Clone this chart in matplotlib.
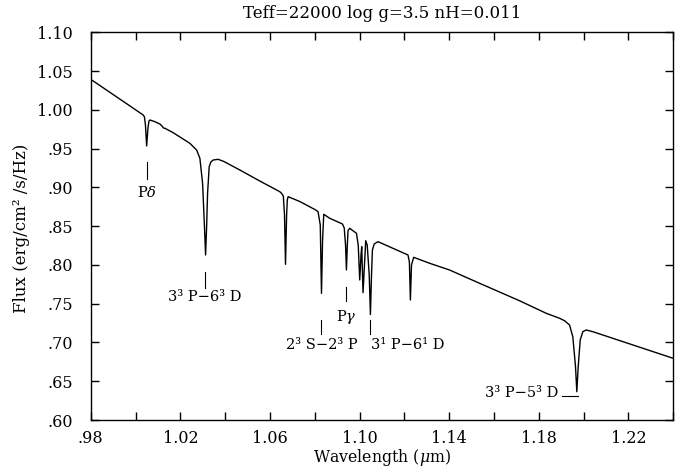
import matplotlib
matplotlib.use("Agg")
import matplotlib.pyplot as plt

# ---- data ----
wavelength = [0.98000, 0.99752, 1.00345, 1.00399, 1.00443, 1.00497, 1.00555, 1.00600, 1.00644,
              1.00867, 1.01090, 1.01201, 1.01246, 1.01313, 1.01683, 1.02427, 1.02726, 1.02873,
              1.02993, 1.03074, 1.03127, 1.03176, 1.03216, 1.03288, 1.03363, 1.03466, 1.03689,
              1.03943, 1.04656, 1.05548, 1.06440, 1.06515, 1.06596, 1.06649, 1.06694, 1.06743,
              1.06774, 1.06810, 1.07331, 1.08045, 1.08147, 1.08245, 1.08299, 1.08348, 1.08401,
              1.08669, 1.09235, 1.09315, 1.09373, 1.09413, 1.09453, 1.09485, 1.09560, 1.09859,
              1.09939, 1.10006, 1.10064, 1.10095, 1.10153, 1.10274, 1.10340, 1.10430, 1.10483,
              1.10532, 1.10572, 1.10652, 1.10822, 1.12160, 1.12222, 1.12267, 1.12316, 1.12414,
              1.13127, 1.14019, 1.15356, 1.17138, 1.18330, 1.18923, 1.19146, 1.19369, 1.19516,
              1.19636, 1.19694, 1.19756, 1.19846, 1.19962, 1.20113, 1.20408, 1.24000]
flux = [1.0394, 1.0050, 0.9933, 0.9908, 0.9805, 0.9534, 0.9766, 0.9856, 0.9869,
        0.9847, 0.9817, 0.9785, 0.9766, 0.9762, 0.9705, 0.9568, 0.9482, 0.9375,
        0.9053, 0.8515, 0.8128, 0.8515, 0.8924, 0.9267, 0.9327, 0.9353, 0.9362,
        0.9334, 0.9224, 0.9082, 0.8944, 0.8924, 0.8889, 0.8644, 0.8008, 0.8644,
        0.8837, 0.8880, 0.8818, 0.8708, 0.8686, 0.8515, 0.7634, 0.8321, 0.8653,
        0.8601, 0.8528, 0.8476, 0.8257, 0.7935, 0.8257, 0.8444, 0.8472, 0.8408,
        0.8257, 0.7806, 0.8128, 0.8235, 0.7642, 0.8312, 0.8257, 0.7870, 0.7360,
        0.7870, 0.8192, 0.8270, 0.8300, 0.8128, 0.8038, 0.7548, 0.7999, 0.8098,
        0.8021, 0.7934, 0.7763, 0.7538, 0.7376, 0.7312, 0.7281, 0.7225, 0.7074,
        0.6687, 0.6365, 0.6687, 0.7032, 0.7139, 0.7161, 0.7139, 0.6795]

line_labels = ["P$\\delta$", "3³ P\u22126³ D", "2³ S\u22122³ P", "P$\\gamma$", "3¹ P\u22126¹ D", "3³ P\u22125³ D"]
line_wavelength = [1.0051, 1.0311, 1.0830, 1.0941, 1.1048, 1.1903]

title = "Teff=22000 log g=3.5 nH=0.011"
x_ticks = [0.98, 1.00, 1.02, 1.04, 1.06, 1.08, 1.10, 1.12, 1.14, 1.16, 1.18, 1.20, 1.22, 1.24]
x_tick_labels = [".98", "", "1.02", "", "1.06", "", "1.10", "", "1.14", "", "1.18", "", "1.22", ""]
y_ticks = [0.60, 0.65, 0.70, 0.75, 0.80, 0.85, 0.90, 0.95, 1.00, 1.05, 1.10]
y_tick_labels = [".60", ".65", ".70", ".75", ".80", ".85", ".90", ".95", "1.00", "1.05", "1.10"]

# ---- plotting ----
plt.rcParams['font.family'] = ['DejaVu Serif']
plt.rcParams['mathtext.fontset'] = 'dejavuserif'
FS = 10.5
TFS = 11.5

fig = plt.figure(figsize=(6.77, 4.70), dpi=100)
ax = fig.add_axes([90.7 / 677, 1 - 420 / 470, (673.3 - 90.7) / 677, (420 - 32.3) / 470])
ax.plot(wavelength, flux, color="black", lw=1.0)
ax.set_xlim(0.98, 1.24)
ax.set_ylim(0.60, 1.10)
ax.set_xticks(x_ticks)
ax.set_xticklabels(x_tick_labels, fontsize=TFS)
ax.set_yticks(y_ticks)
ax.set_yticklabels(y_tick_labels, fontsize=TFS)
ax.tick_params(direction="in", length=6, width=1.0, top=True, right=True, pad=7)
ax.tick_params(axis="y", pad=13)
for s in ax.spines.values():
    s.set_linewidth(1.0)

xc = (90.7 + 673.3) / 2 / 677
fig.text(xc, 1 - 457 / 470, "Wavelength ($\\mu$m)", ha="center", va="center", fontsize=11.3)
fig.text(22 / 677, 1 - 228 / 470, "Flux (erg/cm² /s/Hz)", ha="center", va="center",
         rotation=90, fontsize=12)
fig.text(xc, 1 - 14 / 470, title, ha="center", va="center", fontsize=12)

kw = dict(color="black", lw=0.8)
# P delta
ax.plot([line_wavelength[0]] * 2, [0.9331, 0.9108], **kw)
ax.text(line_wavelength[0], 0.8928, line_labels[0], ha="center", va="center", fontsize=FS)
# 3P-6D
ax.plot([line_wavelength[1]] * 2, [0.7913, 0.7702], **kw)
ax.text(line_wavelength[1], 0.7586, line_labels[1], ha="center", va="center", fontsize=FS)
# 2S-2P
ax.plot([line_wavelength[2]] * 2, [0.7290, 0.7110], **kw)
ax.text(line_wavelength[2], 0.6967, line_labels[2], ha="center", va="center", fontsize=FS)
# P gamma
ax.plot([line_wavelength[3]] * 2, [0.7711, 0.7539], **kw)
ax.text(line_wavelength[3], 0.7332, line_labels[3], ha="center", va="center", fontsize=FS)
# 3P-6D singlet
ax.plot([line_wavelength[4]] * 2, [0.7290, 0.7110], **kw)
ax.text(line_wavelength[4] + 0.0004, 0.6967, line_labels[4], ha="left", va="center", fontsize=FS)
# 3P-5D
ax.plot([line_wavelength[5], 1.1974], [0.6309, 0.6309], **kw)
ax.text(1.1889, 0.6344, line_labels[5], ha="right", va="center", fontsize=FS)

fig.savefig("out.png", dpi=100)
